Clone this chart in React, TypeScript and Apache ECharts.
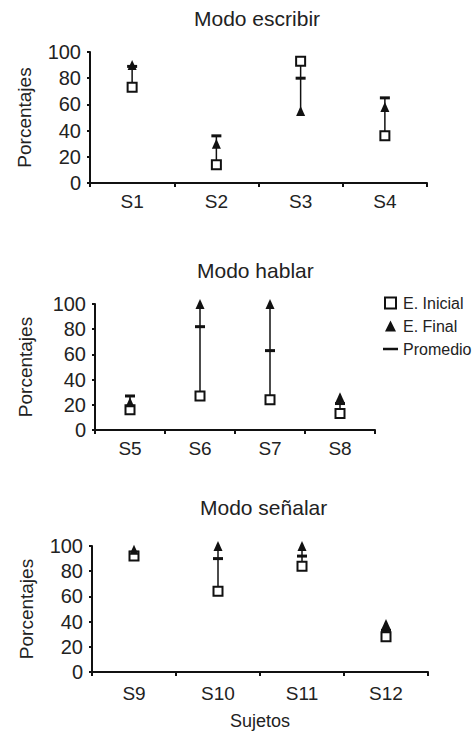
import React, { useEffect, useRef } from "react";
import * as echarts from "echarts";

const titles = ["Modo escribir", "Modo hablar", "Modo señalar"];
const subjects1 = ["S1", "S2", "S3", "S4"];
const subjects2 = ["S5", "S6", "S7", "S8"];
const subjects3 = ["S9", "S10", "S11", "S12"];
const initial1 = [73, 14, 93, 36];
const final1 = [90, 30, 55, 58];
const mean1 = [89, 36, 80, 65];
const initial2 = [16, 27, 24, 13];
const final2 = [22, 100, 100, 26];
const mean2 = [27, 82, 63, 21];
const initial3 = [92, 64, 84, 28];
const final3 = [97, 100, 100, 38];
const mean3 = [95, 90, 92, 33];
const yTicks = [0, 20, 40, 60, 80, 100];

const panels = [
  { cats: subjects1, ini: initial1, fin: final1, mean: mean1 },
  { cats: subjects2, ini: initial2, fin: final2, mean: mean2 },
  { cats: subjects3, ini: initial3, fin: final3, mean: mean3 },
];

const TXT = "#222";
const INK = "#111";
const FONT = "Liberation Sans, Arial, sans-serif";

export default function App() {
  const ref = useRef<HTMLDivElement>(null);
  useEffect(() => {
    if (!ref.current) return;
    const chart = echarts.init(ref.current, undefined, { renderer: "svg" });
    const grids = [
      { left: 90, right: 47, top: 52, height: 131 },
      { left: 95, right: 99, top: 304, height: 126 },
      { left: 92, right: 46, top: 546, height: 130 },
    ];
    const titleTops = [8, 260, 497];
    const titleLefts = [194, 197, 200];
    const xAxes: any[] = [];
    const yAxes: any[] = [];
    const series: any[] = [];
    panels.forEach((p, i) => {
      xAxes.push({
        type: "category",
        gridIndex: i,
        data: p.cats,
        axisLine: { lineStyle: { color: INK, width: 2 } },
        axisTick: { show: true, length: 4, lineStyle: { color: INK, width: 2 } },
        axisLabel: { color: TXT, fontSize: 19, fontFamily: FONT, margin: i === 2 ? 12 : 9 },
        splitLine: { show: false },
        name: i === 2 ? "Sujetos" : "",
        nameLocation: "middle",
        nameGap: 40,
        nameTextStyle: { color: TXT, fontSize: 18, fontFamily: FONT },
      });
      yAxes.push({
        type: "value",
        gridIndex: i,
        min: yTicks[0],
        max: yTicks[yTicks.length - 1],
        interval: 20,
        axisLine: { show: true, lineStyle: { color: INK, width: 2 } },
        axisTick: { show: true, length: 3, lineStyle: { color: INK, width: 2 } },
        axisLabel: { color: TXT, fontSize: 20, fontFamily: FONT, margin: 9 },
        splitLine: { show: false },
        name: "Porcentajes",
        nameLocation: "middle",
        nameRotate: 90,
        nameGap: i === 1 ? 60 : 56,
        nameTextStyle: { color: TXT, fontSize: 19, fontFamily: FONT },
      });
      const bars = p.cats.map((_, k) => {
        const vals = [p.ini[k], p.fin[k], p.mean[k]];
        return [k, Math.min(...vals), Math.max(...vals), p.mean[k]];
      });
      series.push({
        type: "custom",
        name: "Promedio",
        xAxisIndex: i,
        yAxisIndex: i,
        itemStyle: { color: INK },
        encode: { x: 0, y: [1, 2, 3] },
        data: bars,
        z: 2,
        renderItem: (params: any, api: any) => {
          const x = api.value(0);
          const lo = api.coord([x, api.value(1)]);
          const hi = api.coord([x, api.value(2)]);
          const m = api.coord([x, api.value(3)]);
          return {
            type: "group",
            children: [
              {
                type: "line",
                shape: { x1: lo[0], y1: lo[1], x2: hi[0], y2: hi[1] },
                style: { stroke: INK, lineWidth: 1.5 },
              },
              {
                type: "line",
                shape: { x1: m[0] - 5, y1: m[1], x2: m[0] + 5, y2: m[1] },
                style: { stroke: INK, lineWidth: 3 },
              },
            ],
          };
        },
      });
      series.push({
        type: "scatter",
        name: "E. Inicial",
        xAxisIndex: i,
        yAxisIndex: i,
        symbol: "rect",
        symbolSize: 9,
        itemStyle: { color: "#fff", borderColor: INK, borderWidth: 2, opacity: 1 },
        data: p.ini.map((v, k) => [k, v]),
        z: 3,
      });
      series.push({
        type: "scatter",
        name: "E. Final",
        xAxisIndex: i,
        yAxisIndex: i,
        symbol: "triangle",
        symbolSize: [9, 10],
        itemStyle: { color: INK, opacity: 1 },
        data: p.fin.map((v, k) => [k, v]),
        z: 4,
      });
    });

    chart.setOption({
      animation: false,
      backgroundColor: "#fff",
      title: titles.map((t, i) => ({
        text: t,
        left: titleLefts[i],
        top: titleTops[i],
        padding: 0,
        textStyle: { color: TXT, fontSize: 21, fontWeight: "normal", fontFamily: FONT },
      })),
      legend: {
        orient: "vertical",
        left: 378,
        top: 290,
        itemGap: 7,
        itemWidth: 15,
        itemHeight: 11,
        symbolKeepAspect: true,
        textStyle: { color: TXT, fontSize: 16, fontFamily: FONT },
        data: [
          { name: "E. Inicial", icon: "path://M0,0L10,0L10,10L0,10Z" },
          { name: "E. Final", icon: "path://M5,0L10,10L0,10Z" },
          { name: "Promedio", icon: "path://M0,0L15,0L15,2.5L0,2.5Z" },
        ],
        selectedMode: false,
      },
      grid: grids,
      xAxis: xAxes,
      yAxis: yAxes,
      series,
    });
    return () => chart.dispose();
  }, []);
  return (
    <div
      ref={ref}
      style={{ position: "absolute", left: 0, top: 0, width: 474, height: 731, background: "#fff" }}
    />
  );
}
